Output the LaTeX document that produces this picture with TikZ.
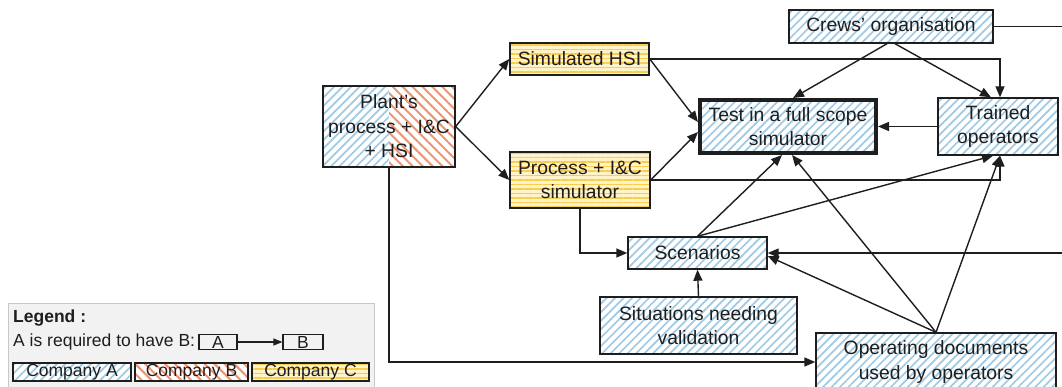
\documentclass[tikz,border=0pt]{standalone}
\usepackage{fontspec}
\setmainfont{Liberation Sans}
\usetikzlibrary{arrows.meta,patterns.meta,backgrounds}
\definecolor{ink}{RGB}{30,30,30}
\definecolor{bluestripe}{RGB}{160,202,228}
\definecolor{redstripe}{RGB}{240,148,112}
\definecolor{yellowbg}{RGB}{255,243,200}
\definecolor{yellowstripe}{RGB}{247,204,80}
\definecolor{legendbg}{RGB}{242,242,242}
\definecolor{legendline}{RGB}{200,200,200}
\tikzset{
  box/.style={draw=ink, line width=1.4pt, align=center, inner sep=0pt, text=ink,
    font=\fontsize{19.3}{24.5}\selectfont},
  legbox/.style={draw=ink, line width=1.2pt, align=center, inner sep=0pt, text=ink,
    font=\fontsize{17.5}{20}\selectfont},
  legtext/.style={inner sep=0pt, text=ink, font=\fontsize{17.5}{20}\selectfont},
  compA/.style={preaction={fill=white}, pattern={Lines[angle=45,distance=6pt,line width=1.7pt]}, pattern color=bluestripe},
  compB/.style={preaction={fill=white}, pattern={Lines[angle=-45,distance=7pt,line width=2pt]}, pattern color=redstripe},
  compC/.style={preaction={fill=yellowbg}, pattern={Lines[angle=0,distance=4.5pt,line width=1.5pt]}, pattern color=yellowstripe},
  link/.style={draw=ink, line width=1.4pt, -{Triangle[length=11pt,width=9pt]}},
  leglink/.style={draw=ink, line width=1.2pt, -{Triangle[length=9pt,width=7pt]}},
  plain/.style={draw=ink, line width=1.4pt},
}
\begin{document}
\begin{tikzpicture}[x=1pt,y=-1pt]
\useasboundingbox (0,0) rectangle (1062,387);
\clip (0,0) rectangle (1062,387);

% main nodes
\node[box, minimum width=132, minimum height=81] (plant) at (389,126.5) {Plant’s\\process + I\&C\\+ HSI};
\begin{scope}[on background layer]
  \fill[compA] (plant.north west) rectangle (plant.south);
  \fill[compB] (plant.south) rectangle (plant.north east);
\end{scope}
\node[box, compC, minimum width=139, minimum height=32] (hsi) at (579.5,59) {Simulated HSI};
\node[box, compC, minimum width=140, minimum height=56] (proc) at (580,180) {Process + I\&C\\simulator};
\node[box, compA, line width=4pt, minimum width=176, minimum height=53] (test) at (788,126.5) {Test in a full scope\\simulator};
\node[box, compA, minimum width=120, minimum height=57] (trained) at (998,126.5) {Trained\\operators};
\node[box, compA, minimum width=204, minimum height=33] (crews) at (891,26.5) {Crews’ organisation};
\node[box, compA, minimum width=139, minimum height=32] (scen) at (697.5,253) {Scenarios};
\node[box, compA, minimum width=197, minimum height=57] (sit) at (698.5,325.5) {Situations needing\\validation};
\node[box, compA, minimum width=240, minimum height=58] (docs) at (936,362) {Operating documents\\used by operators};

\coordinate (offA) at (1075,26.5);
\coordinate (offB) at (1075,253);

% connectors
\draw[link] (plant.east) -- (hsi.west);
\draw[link] (plant.east) -- (proc.west);
\draw[link] (hsi.east) -- ([yshift=4.5pt]test.west);
\draw[link] (proc.east) -- ([yshift=-5.5pt]test.west);
\draw[link] (hsi.east) -| ([xshift=2pt]trained.north);
\draw[link] (proc.east) -| ([xshift=2pt]trained.south);
\draw[link] ([xshift=-4pt]crews.south) -- ([xshift=5pt]test.north);
\draw[link] ([xshift=4pt]crews.south) -- ([xshift=-7pt]trained.north);
\draw[plain] (crews.east) -- (offA);
\draw[link] (trained.west) -- (test.east);
\draw[link] (proc.south) |- (scen.west);
\draw[link] (sit.north) -- (scen.south);
\draw[link] (scen.north) -- ([xshift=-6pt]test.south);
\draw[link] (scen.north) -- ([xshift=-5pt]trained.south);
\draw[link] (docs.north) -- ([xshift=4pt]test.south);
\draw[link] (docs.north) -- ([xshift=2pt]trained.south);
\draw[link] (docs.north) -- ([yshift=-3pt]scen.east);
\draw[link] (offB) -- (scen.east);
\draw[link] (plant.south) |- (docs.west);

% legend
\node[draw=legendline, fill=legendbg, line width=1pt, minimum width=366, minimum height=95,
  anchor=north west, inner sep=0pt] (legend) at (8,303) {};
\node[legtext, anchor=west, font=\fontsize{17.5}{20}\selectfont\bfseries] (legtitle) at (13,318) {Legend :};
\node[legtext, anchor=west] (legreq) at (13,342) {A is required to have B:};
\node[legbox, minimum width=38, minimum height=15] (la) at (218,342) {A};
\node[legbox, minimum width=40, minimum height=15] (lb) at (303,342) {B};
\draw[leglink] (la) -- (lb);
\node[legbox, compA, minimum width=118, minimum height=18] (ca) at (72,372) {Company A};
\node[legbox, compB, minimum width=113, minimum height=18] (cb) at (191.5,372) {Company B};
\node[legbox, compC, minimum width=117, minimum height=18] (cc) at (310.5,372) {Company C};
\end{tikzpicture}
\end{document}
